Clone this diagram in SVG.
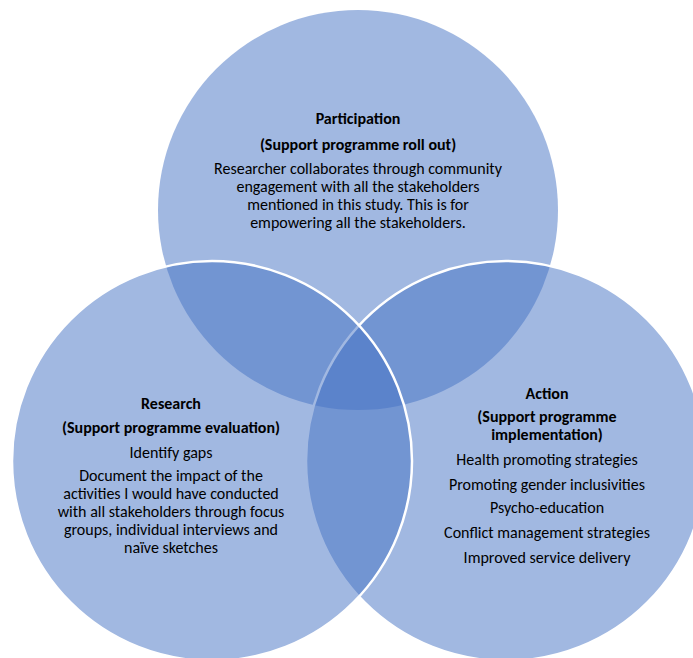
<svg xmlns="http://www.w3.org/2000/svg" width="693" height="658" viewBox="0 0 693 658">
  <style>
    .ring { fill: #4472C4; fill-opacity: 0.5; }
    .edge { stroke: #FFFFFF; stroke-width: 2.5; }
    text { font-family: Carlito, Lato, "Liberation Sans", sans-serif; font-size: 16px; fill: #000000; text-anchor: middle; }
    .head { font-weight: bold; }
  </style>
  <rect width="693" height="658" fill="#FFFFFF"/>
  <!-- Three overlapping translucent circles -->
  <g id="participation">
    <circle class="ring" cx="358" cy="210" r="200"/>
    <text class="head" x="358" y="124">Participation</text>
    <text class="head" x="358" y="150">(Support programme roll out)</text>
    <text x="358" y="174">Researcher collaborates through community</text>
    <text x="358" y="192">engagement with all the stakeholders</text>
    <text x="358" y="210">mentioned in this study. This is for</text>
    <text x="358" y="228">empowering all the stakeholders.</text>
  </g>
  <g id="action">
    <circle class="ring edge" cx="506" cy="461" r="200"/>
  </g>
  <g id="research">
    <circle class="ring edge" cx="212" cy="461" r="200"/>
  </g>
  <!-- Labels drawn above all fills -->
  <g id="research-text">
    <text class="head" x="171" y="409">Research</text>
    <text class="head" x="171" y="433">(Support programme evaluation)</text>
    <text x="171" y="458">Identify gaps</text>
    <text x="171" y="481">Document the impact of the</text>
    <text x="171" y="499">activities I would have conducted</text>
    <text x="171" y="517">with all stakeholders through focus</text>
    <text x="171" y="535">groups, individual interviews and</text>
    <text x="171" y="553">naïve sketches</text>
  </g>
  <g id="action-text">
    <text class="head" x="547" y="399">Action</text>
    <text class="head" x="547" y="422">(Support programme</text>
    <text class="head" x="547" y="440">implementation)</text>
    <text x="547" y="465">Health promoting strategies</text>
    <text x="547" y="490">Promoting gender inclusivities</text>
    <text x="547" y="513">Psycho-education</text>
    <text x="547" y="538">Conflict management strategies</text>
    <text x="547" y="563">Improved service delivery</text>
  </g>
</svg>
